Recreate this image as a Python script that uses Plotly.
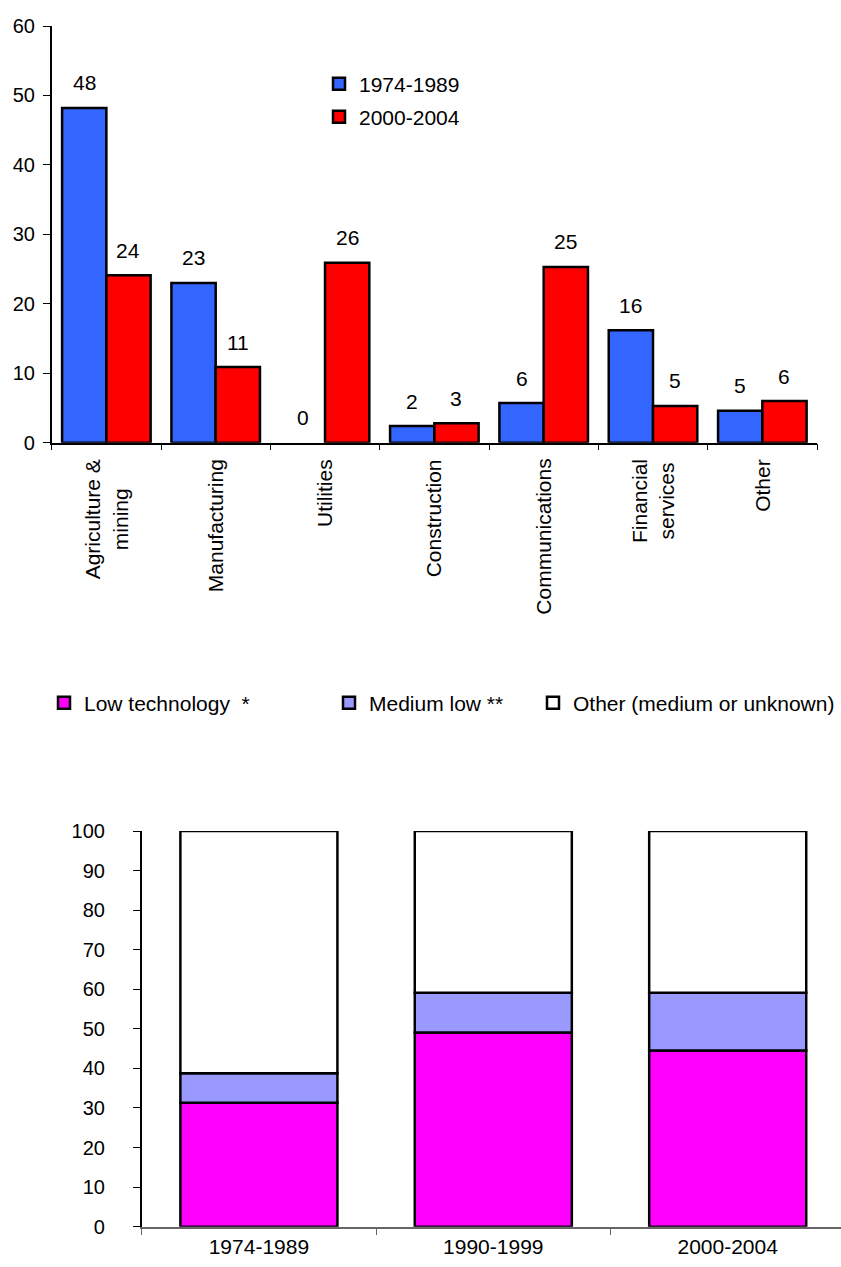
import plotly.graph_objects as go

# Upper panel: share by sector, two periods
sectors = ["Agriculture &<br>mining", "Manufacturing", "Utilities", "Construction",
           "Communications", "Financial<br>services", "Other"]
period_a_name = "1974-1989"
period_b_name = "2000-2004"
share_1974_1989 = [48.2, 23.0, 0.0, 2.4, 5.7, 16.2, 4.6]
share_2000_2004 = [24.1, 10.9, 25.9, 2.8, 25.3, 5.3, 6.0]
upper_ticks = [0, 10, 20, 30, 40, 50, 60]

# Lower panel: technology intensity by period (stacked to 100)
periods = ["1974-1989", "1990-1999", "2000-2004"]
low_tech = [31.3, 49.1, 44.5]
medium_low = [7.5, 10.0, 14.6]
other_tech = [61.2, 40.9, 40.9]
tech_names = ["Low technology  *", "Medium low **", "Other (medium or unknown)"]
lower_ticks = list(range(0, 101, 10))

W, H = 841, 1267
FONT = "Liberation Sans, Arial, sans-serif"
BLUE, RED = "#3366FF", "#FF0000"
MAGENTA, LAVENDER, WHITE = "#FF00FF", "#9999FF", "#FFFFFF"

# pixel layout of the two plot areas
top_l, top_r, top_t, top_b = 51.7, 817.0, 26.0, 442.7
bot_l, bot_r, bot_t, bot_b = 141.7, 841.0, 831.0, 1226.7
bot_cat_w = 234.4
top_bargap = 0.19
bot_bargap = 0.33
OUTLINE_W = 2.5


def outline_for(vals):
    # zero-height bars get no outline
    return dict(color="black", width=[OUTLINE_W if v > 0 else 0 for v in vals])


fig = go.Figure()

half = (1 - top_bargap) / 2
fig.add_trace(go.Bar(x=sectors, y=share_1974_1989, name=period_a_name,
                     marker=dict(color=BLUE, line=outline_for(share_1974_1989)),
                     offsetgroup="a", width=half, offset=-half, showlegend=True,
                     xaxis="x", yaxis="y", legend="legend"))
fig.add_trace(go.Bar(x=sectors, y=share_2000_2004, name=period_b_name,
                     marker=dict(color=RED, line=outline_for(share_2000_2004)),
                     offsetgroup="b", width=half, offset=0, showlegend=True,
                     xaxis="x", yaxis="y", legend="legend2"))

# lower panel: each layer starts where the previous one ends
stack_base = [0.0] * len(periods)
for vals, name, col, lg in zip([low_tech, medium_low, other_tech], tech_names,
                               [MAGENTA, LAVENDER, WHITE],
                               ["legend3", "legend4", "legend5"]):
    fig.add_trace(go.Bar(x=periods, y=vals, base=list(stack_base), name=name,
                         marker=dict(color=col, line=outline_for(vals)),
                         offsetgroup="stack", width=1 - bot_bargap,
                         offset=-(1 - bot_bargap) / 2, showlegend=True,
                         xaxis="x2", yaxis="y2", legend=lg))
    stack_base = [b + v for b, v in zip(stack_base, vals)]

# value labels above the grouped bars
cat_px = (top_r - top_l) / len(sectors)
half_bar_px = cat_px * half / 2
annotations = []
for cat, a, b in zip(sectors, share_1974_1989, share_2000_2004):
    for v, dx in ((a, -half_bar_px), (b, half_bar_px)):
        annotations.append(dict(x=cat, y=v, xref="x", yref="y", text=f"{v:.0f}",
                                showarrow=False, xshift=dx, yshift=25,
                                yanchor="middle",
                                font=dict(family=FONT, size=21, color="black")))

# rotated sector names, lines centred on each other
for cat in sectors:
    annotations.append(dict(x=cat, y=1 - 457 / H, xref="x", yref="paper",
                            text=cat, textangle=-90, align="center",
                            xanchor="center", yanchor="top", showarrow=False,
                            font=dict(family=FONT, size=21, color="black")))

axis_font = dict(family=FONT, size=20, color="black")


def legend_at(x_px, y_px):
    return dict(x=x_px / W, y=1 - y_px / H, xanchor="left", yanchor="middle",
                bgcolor="rgba(0,0,0,0)", borderwidth=0, visible=True,
                font=dict(family=FONT, size=21, color="black"))


fig.update_layout(
    width=W, height=H,
    margin=dict(l=0, r=0, t=0, b=0),
    paper_bgcolor="white", plot_bgcolor="white",
    barmode="group",
    showlegend=True,
    font=dict(family=FONT, size=20, color="black"),
    annotations=annotations,
    legend=legend_at(319, 84),
    legend2=legend_at(319, 117),
    legend3=legend_at(44, 703),
    legend4=legend_at(329, 703),
    legend5=legend_at(533, 703),
    xaxis=dict(domain=[top_l / W, top_r / W], anchor="y",
               type="category", range=[-0.5, len(sectors) - 0.5],
               showline=True, linecolor="black", linewidth=1.5,
               ticks="outside", tickson="boundaries", ticklen=6, tickcolor="black",
               showticklabels=False,
               showgrid=False, zeroline=False, automargin=False),
    yaxis=dict(domain=[1 - top_b / H, 1 - top_t / H], anchor="x",
               range=[0, 60], tickvals=upper_ticks,
               showline=True, linecolor="black", linewidth=1.5,
               ticks="outside", ticklen=7, tickcolor="black",
               ticklabelstandoff=4, tickfont=axis_font,
               showgrid=False, zeroline=False, automargin=False),
    xaxis2=dict(domain=[bot_l / W, 1.0], anchor="y2",
                type="category",
                range=[-0.5, -0.5 + (bot_r - bot_l) / bot_cat_w],
                showline=True, linecolor="#666666", linewidth=1.5,
                ticks="outside", tickson="boundaries", ticklen=7, tickcolor="#666666",
                tickfont=dict(family=FONT, size=21, color="black"),
                showgrid=False, zeroline=False, automargin=False),
    yaxis2=dict(domain=[1 - bot_b / H, 1 - bot_t / H], anchor="x2",
                range=[0, 100], tickvals=lower_ticks,
                showline=True, linecolor="black", linewidth=1.5,
                ticks="outside", ticklen=7, tickcolor="black",
                ticklabelstandoff=24, tickfont=axis_font,
                showgrid=False, zeroline=False, automargin=False),
)

fig.write_html("out.html")
